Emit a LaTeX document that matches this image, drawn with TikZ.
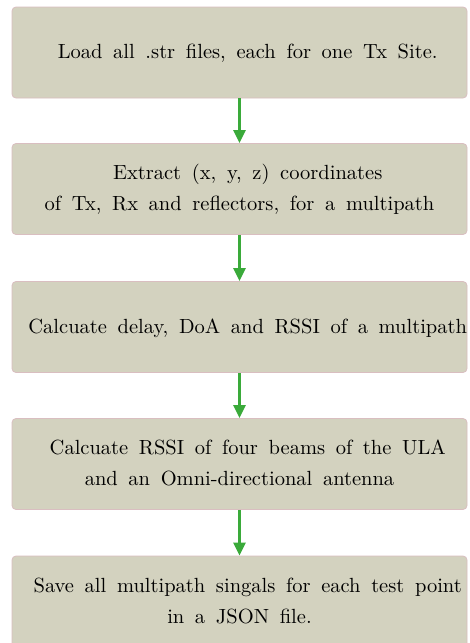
\documentclass[tikz,border=0pt]{standalone}
\usetikzlibrary{arrows.meta}
\definecolor{boxfill}{HTML}{D3D2BF}
\definecolor{boxline}{HTML}{D9BEC0}
\definecolor{arrowgreen}{HTML}{3AAA3A}
\newcommand{\steptext}[1]{\scalebox{2.05}{\spaceskip=5.2pt\xspaceskip=5.2pt\renewcommand{\arraystretch}{1.26}\begin{tabular}{@{}c@{}}#1\end{tabular}}}
\begin{document}
\begin{tikzpicture}[x=1pt,y=-1pt,
  stepbox/.style={draw=boxline, line width=0.8pt, fill=boxfill, rounded corners=4pt,
    minimum width=455pt, minimum height=91pt, inner sep=0pt, align=center},
  flow/.style={draw=arrowgreen, line width=2.6pt, -{Triangle[width=12pt,length=13pt]}}]
\useasboundingbox (0,0) rectangle (469,643);
\fill[white] (0,0) rectangle (469,643);
\node[stepbox] (b1) at (239.5,52.5) {\steptext{\hspace*{8pt}Load all .str files, each for one Tx Site.}};
\node[stepbox] (b2) at (239.5,189) {\steptext{\hspace*{8pt}Extract (x, y, z) coordinates\\of Tx, Rx and reflectors, for a multipath}};
\node[stepbox] (b3) at (239.5,327) {\steptext{\hspace*{8pt}Calcuate delay, DoA and RSSI of a multipath}};
\node[stepbox] (b4) at (239.5,464) {\steptext{\hspace*{8pt}Calcuate RSSI of four beams of the ULA\\and an Omni-directional antenna}};
\node[stepbox] (b5) at (239.5,601.5) {\steptext{\hspace*{8pt}Save all multipath singals for each test point\\in a JSON file.}};
\draw[flow] (b1.south) -- (b2.north);
\draw[flow] (b2.south) -- (b3.north);
\draw[flow] (b3.south) -- (b4.north);
\draw[flow] (b4.south) -- (b5.north);
\end{tikzpicture}
\end{document}
